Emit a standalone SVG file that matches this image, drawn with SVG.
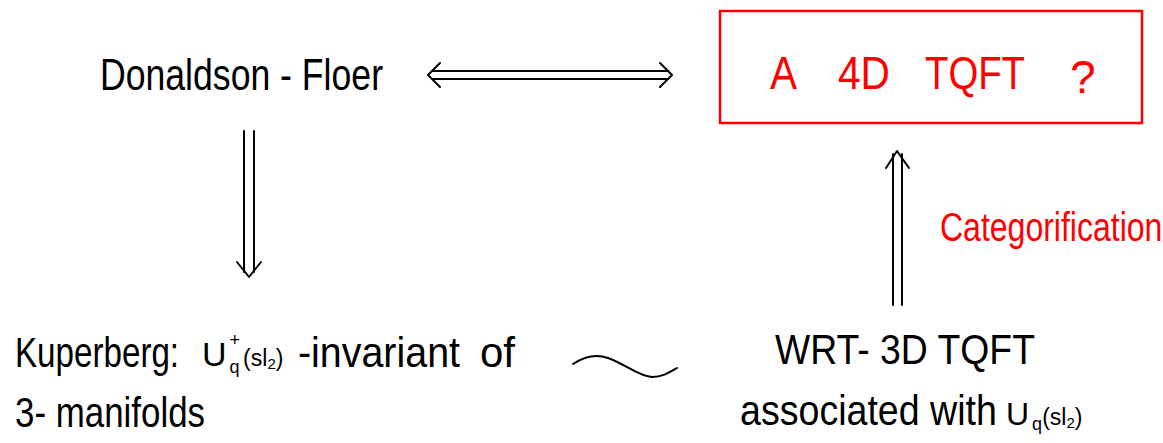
<svg xmlns="http://www.w3.org/2000/svg" width="1163" height="443" viewBox="0 0 1163 443">
  <style>
    .t { font-family: "Liberation Sans", "DejaVu Sans", sans-serif; fill: #000; }
    .r { fill: #ff0000; }
    .ln { fill: none; stroke: #000; stroke-width: 2; stroke-linecap: round; stroke-linejoin: round; }
  </style>
  <rect width="1163" height="443" fill="#fff"/>

  <g id="donaldson-floer">
    <text class="t" x="100" y="90" font-size="44" textLength="283" lengthAdjust="spacingAndGlyphs">Donaldson - Floer</text>
  </g>

  <g id="tqft-4d">
    <rect x="720" y="11" width="422" height="112" fill="none" stroke="#ff0000" stroke-width="2.5"/>
    <text class="t r" x="770" y="89" font-size="46" textLength="27" lengthAdjust="spacingAndGlyphs">A</text>
    <text class="t r" x="838" y="89" font-size="46" textLength="52" lengthAdjust="spacingAndGlyphs">4D</text>
    <text class="t r" x="925" y="89" font-size="46" textLength="100" lengthAdjust="spacingAndGlyphs">TQFT</text>
    <text class="t r" x="1070" y="93" font-size="46">?</text>
  </g>

  <g id="kuperberg">
    <text class="t" transform="translate(15 367) scale(0.79 1)" font-size="42">Kuperberg:</text>
    <text class="t" x="202" y="366"><tspan font-size="34">U</tspan><tspan font-size="18" dx="3" dy="7">q</tspan><tspan font-size="18" dx="-10" dy="-27">+</tspan><tspan font-size="23" dx="3" dy="20">(sl</tspan><tspan font-size="15" dy="3">2</tspan><tspan font-size="23" dy="-3">)</tspan></text>
    <text class="t" x="298" y="367" font-size="42" textLength="162" lengthAdjust="spacingAndGlyphs">-invariant</text>
    <text class="t" x="480" y="367" font-size="42">of</text>
    <text class="t" x="15" y="427" font-size="42" textLength="190" lengthAdjust="spacingAndGlyphs">3- manifolds</text>
  </g>

  <g id="wrt-3d">
    <text class="t" x="775" y="364" font-size="42" textLength="260" lengthAdjust="spacingAndGlyphs">WRT- 3D TQFT</text>
    <text class="t" transform="translate(740 425) scale(0.895 1)" font-size="42">associated with</text>
    <text class="t" x="1006" y="425"><tspan font-size="32">U</tspan><tspan font-size="18" dx="3" dy="5">q</tspan><tspan font-size="23" dy="-5">(sl</tspan><tspan font-size="15" dy="3">2</tspan><tspan font-size="23" dy="-3">)</tspan></text>
  </g>

  <g id="connectors">
    <!-- two-way double arrow -->
    <path class="ln" d="M432 71 H668 M432 79 H668"/>
    <path class="ln" d="M440 63 L428 75 L440 87 M660 63 L672 75 L660 87"/>
    <!-- downward double arrow -->
    <path class="ln" d="M244 131 V272 M254 131 V272"/>
    <path class="ln" d="M237 262 L249 277 L261 262"/>
    <!-- upward double arrow -->
    <path class="ln" d="M893 154 V305 M902 154 V305"/>
    <path class="ln" d="M886 168 L897 151 L909 168"/>
    <!-- tilde relation -->
    <path class="ln" d="M573 364 C585 356 597 354 608 358 C625 364 640 377 652 377 C663 377 670 372 677 368" stroke-width="2.5"/>
    <text class="t r" transform="translate(940 241) scale(0.8 1)" font-size="40">Categorification</text>
  </g>
</svg>
